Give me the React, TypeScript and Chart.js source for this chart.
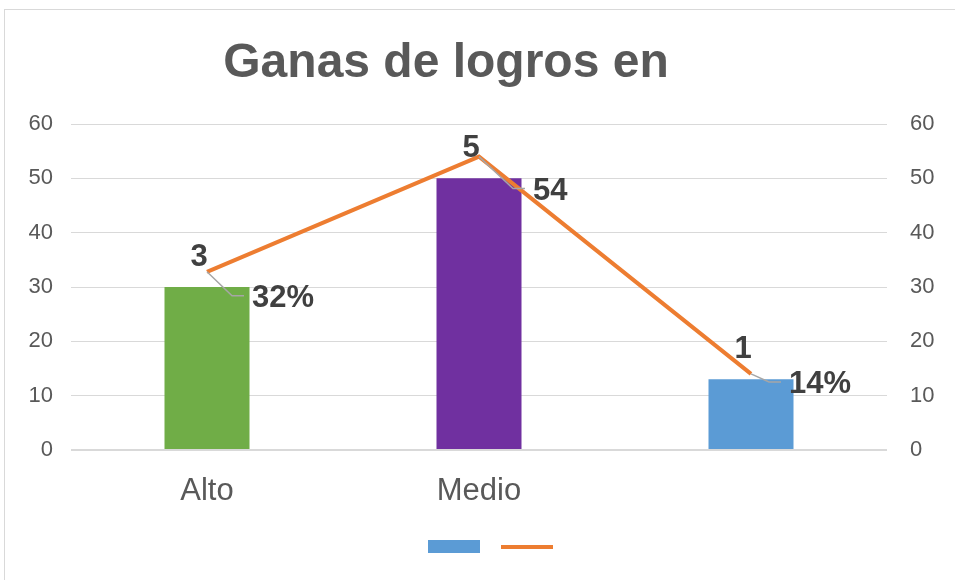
import React, { useEffect, useRef } from "react";
import { Chart, registerables } from "chart.js";

Chart.register(...registerables);

const chartTitle = "Ganas de logros en";
const categories = ["Alto", "Medio", ""];
const barValues = [30, 50, 13];
const barColors = ["#70AD47", "#7030A0", "#5B9BD5"];
const lineValues = [32.8, 54, 14];
const barLabels = ["3", "5", "1"];
const lineLabels = ["32%", "54", "14%"];
const lineLabelOffsets = [
  [45, 27],
  [54, 35],
  [38, 11],
];
const yMin = 0;
const yMax = 60;
const yStep = 10;

const FONT = "'Liberation Sans', Arial, sans-serif";

const overlayPlugin = {
  id: "overlay",
  afterDatasetsDraw(chart: any) {
    const ctx = chart.ctx;
    const lineMeta = chart.getDatasetMeta(0);
    const barMeta = chart.getDatasetMeta(1);
    ctx.save();
    // title
    ctx.fillStyle = "#595959";
    ctx.font = `bold 48px ${FONT}`;
    ctx.textAlign = "center";
    ctx.textBaseline = "middle";
    ctx.fillText(chartTitle, 446, 64);

    // bar labels
    ctx.fillStyle = "#404040";
    ctx.font = `bold 31px ${FONT}`;
    barMeta.data.forEach((bar: any, i: number) => {
      ctx.textAlign = "center";
      ctx.textBaseline = "middle";
      ctx.fillText(barLabels[i], bar.x - 8, bar.y - 30);
    });

    // line labels with leader lines
    lineMeta.data.forEach((pt: any, i: number) => {
      const [dx, dy] = lineLabelOffsets[i];
      const lx = pt.x + dx;
      const cy = pt.y + dy;
      ctx.strokeStyle = "#a6a6a6";
      ctx.lineWidth = 1.5;
      ctx.beginPath();
      ctx.moveTo(pt.x, pt.y);
      ctx.lineTo(lx - 20, cy - 3);
      ctx.lineTo(lx - 8, cy - 3);
      ctx.stroke();
      ctx.fillStyle = "#404040";
      ctx.textAlign = "left";
      ctx.textBaseline = "middle";
      ctx.fillText(lineLabels[i], lx, cy);
    });

    // legend (no text)
    ctx.fillStyle = "#5B9BD5";
    ctx.fillRect(428, 540, 52, 13);
    ctx.fillStyle = "#ED7D31";
    ctx.fillRect(501, 545, 52, 4);
    ctx.restore();
  },
};

export default function App() {
  const ref = useRef<HTMLCanvasElement | null>(null);
  useEffect(() => {
    if (!ref.current) return;
    const chart = new Chart(ref.current, {
      type: "bar",
      data: {
        labels: categories,
        datasets: [
          {
            type: "line",
            label: "line",
            data: lineValues,
            borderColor: "#ED7D31",
            backgroundColor: "#ED7D31",
            borderWidth: 4,
            pointRadius: 0,
            tension: 0,
            yAxisID: "y1",
          } as any,
          {
            type: "bar",
            label: "bar",
            data: barValues,
            backgroundColor: barColors,
            categoryPercentage: 0.5,
            barPercentage: 0.625,
            yAxisID: "y",
          },
        ],
      },
      options: {
        responsive: false,
        animation: false,
        devicePixelRatio: 1,
        layout: { padding: { top: 124, left: 0, right: 0, bottom: 0 } },
        plugins: {
          legend: { display: false },
          title: { display: false },
          tooltip: { enabled: false },
        },
        scales: {
          x: {
            grid: { display: false, drawTicks: false },
            border: { display: false },
            ticks: {
              color: "#595959",
              font: { family: FONT, size: 31 },
              padding: 23,
              maxRotation: 0,
            },
            afterFit: (s: any) => {
              s.height = 130;
            },
          },
          y: {
            position: "left",
            min: yMin,
            max: yMax,
            ticks: {
              stepSize: yStep,
              color: "#595959",
              font: { family: FONT, size: 22 },
              padding: 18,
            },
            grid: {
              color: "#d9d9d9",
              drawTicks: false,
              lineWidth: (c: any) => (c.tick && c.tick.value === 0 ? 2 : 1),
            },
            border: { display: false },
            afterFit: (s: any) => {
              s.width = 71;
            },
          },
          y1: {
            position: "right",
            min: yMin,
            max: yMax,
            ticks: {
              stepSize: yStep,
              color: "#595959",
              font: { family: FONT, size: 22 },
              padding: 23,
            },
            grid: { display: false, drawTicks: false },
            border: { display: false },
            afterFit: (s: any) => {
              s.width = 68;
            },
          },
        },
      },
      plugins: [overlayPlugin],
    });
    return () => chart.destroy();
  }, []);

  return (
    <div
      style={{
        position: "fixed",
        left: 0,
        top: 0,
        width: 955,
        height: 580,
        background: "#ffffff",
        overflow: "hidden",
      }}
    >
      <div
        style={{
          position: "absolute",
          left: 4,
          top: 9,
          width: 1000,
          height: 700,
          border: "1px solid #d9d9d9",
        }}
      />
      <canvas
        ref={ref}
        width={955}
        height={580}
        style={{ position: "absolute", left: 0, top: 0, display: "block" }}
      />
    </div>
  );
}
